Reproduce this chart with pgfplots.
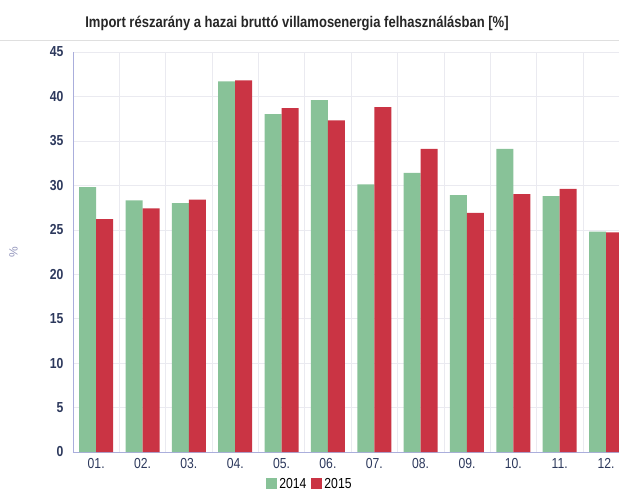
\documentclass[border=0pt]{standalone}
\usepackage{fontspec}
\setmainfont{Liberation Sans}
\newfontfamily\narrow[FakeStretch=0.84]{Liberation Sans}
\usepackage{pgfplots}
\pgfplotsset{compat=1.18}

\definecolor{gr}{RGB}{136,194,152}
\definecolor{rd}{RGB}{202,52,68}
\definecolor{axc}{RGB}{170,174,220}
\definecolor{tickc}{RGB}{44,56,92}
\definecolor{gridc}{RGB}{234,234,240}

\begin{document}
\begin{tikzpicture}
\path[use as bounding box] (-73pt,-39pt) rectangle (546pt,452pt);
\begin{axis}[
    at={(0,0)}, anchor=south west,
    scale only axis, width=546pt, height=400pt,
    xmin=0.5, xmax=12.28, ymin=0, ymax=45,
    ybar=0pt, bar width=17pt,
    axis x line*=bottom, axis y line*=left,
    axis line style={draw=axc, line width=0.8pt, -},
    xtick={1,...,12},
    xticklabels={01.,02.,03.,04.,05.,06.,07.,08.,09.,10.,11.,12.},
    ytick={0,5,...,45},
    major tick length=0pt,
    ymajorgrids, xmajorgrids=false,
    grid style={draw=gridc, line width=0.5pt},
    extra x ticks={1.5,2.5,...,11.5},
    extra x tick labels={},
    extra x tick style={grid=major, major grid style={draw=gridc}},
    x tick label style={font=\narrow\fontsize{14.5}{14.5}\selectfont, text=tickc, yshift=-3pt},
    y tick label style={font=\narrow\bfseries\fontsize{14.5}{14.5}\selectfont, text=tickc, xshift=-6pt},
    /pgf/number format/assume math mode=true,
    ylabel={\%},
    ylabel style={font=\fontsize{12}{12}\selectfont, text=axc!85!black, at={(-0.095,0.5)}},
    legend style={at={(0.434,-0.08)}, anchor=center, draw=none, fill=none,
        font=\narrow\fontsize{14.5}{14.5}\selectfont, legend columns=-1,
        /tikz/every even column/.append style={column sep=3pt}},
    legend image code/.code={\fill[#1] (0pt,-5pt) rectangle (11pt,6pt);},
]
\addplot[fill=gr, draw=none] coordinates {
    (1,29.8) (2,28.3) (3,28.0) (4,41.7) (5,38.0) (6,39.6)
    (7,30.1) (8,31.4) (9,28.9) (10,34.1) (11,28.8) (12,24.8)};
\addlegendentry{2014}
\addplot[fill=rd, draw=none] coordinates {
    (1,26.2) (2,27.4) (3,28.4) (4,41.8) (5,38.7) (6,37.3)
    (7,38.8) (8,34.1) (9,26.9) (10,29.0) (11,29.6) (12,24.7)};
\addlegendentry{2015}
\end{axis}
\draw[gray!25, line width=0.6pt] (-73pt,412pt) -- (546pt,412pt);
\node[font=\narrow\bfseries\fontsize{15.5}{15.5}\selectfont, text=black!85] at (224pt,429pt)
    {Import részarány a hazai bruttó villamosenergia felhasználásban [\%]};
\end{tikzpicture}
\end{document}
